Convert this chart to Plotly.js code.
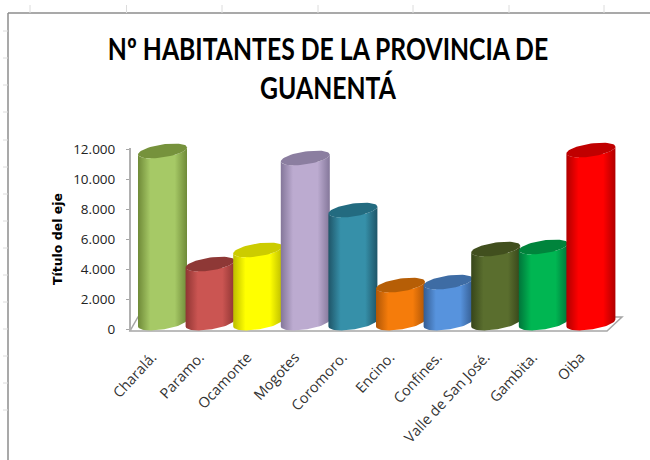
<!DOCTYPE html>
<html>
<head>
<meta charset="utf-8">
<script src="https://cdn.plot.ly/plotly-3.0.1.min.js"></script>
<style>html,body{margin:0;padding:0;background:#fff}#chart{width:650px;height:460px}</style>
</head>
<body>
<div id="chart"></div>
<script>
var categories = ["Charalá.","Paramo.","Ocamonte","Mogotes","Coromoro.","Encino.","Confines.","Valle de San José.","Gambita.","Oiba"];
var habitantes = [11470,3930,4870,11000,7530,2530,2730,4930,5070,11530];
var lightColors = ["#A6C966","#CB5552","#FFFF00","#BCABD0","#3690A9","#F57C0B","#5793DD","#5A6E2E","#00B652","#FF0000"];
var darkColors  = ["#6F8A38","#8F3533","#BDBD00","#84779A","#1F5568","#B05606","#355D92","#37461A","#00753A","#B00000"];
var capColors   = ["#76923C","#8E3836","#CCCC00","#8B7EA0","#236B80","#B65E06","#3E6CA4","#414F1E","#00843C","#C00000"];
var yTicks = [0,2000,4000,6000,8000,10000,12000];
var titleText = "Nº HABITANTES DE LA PROVINCIA DE<br>GUANENTÁ";
var yTitleText = "Título del eje";

var W=650,H=460, L=130,R=622;
var yZero=329, yTop=149;                 // pixel rows of the 0 and 12.000 ticks
var pxPerUnit=(yZero-yTop)/12000;
var pad=10;                              // room above and below so the caps are not clipped
var T=yTop-pad, B=yZero+pad;
var plotW=R-L, plotH=B-T;
var pxPerCat=47.6, firstCenter=162.5;
var xMin=(L-firstCenter)/pxPerCat, xMax=(R-firstCenter)/pxPerCat;
var halfW=24.5, tilt=3.5, halfH=6.5, depth=6/pxPerUnit;
var labelShift=-0.22, titleCx=328, titleSquash=0.825;

function px(x){return (x-L)/plotW;}
function py(y){return (B-y)/plotH;}
function arc(cx,cy,t0,t1,n){
  var xs=[],ys=[];
  for(var i=0;i<=n;i++){
    var t=t0+(t1-t0)*i/n;
    xs.push(cx+halfW*Math.cos(t)/pxPerCat);
    ys.push(cy+(tilt*Math.cos(t)-halfH*Math.sin(t))/pxPerUnit);
  }
  return {x:xs,y:ys};
}

var traces=[{
  type:"bar",x:categories.map(function(c,i){return i;}),y:habitantes,base:depth,width:0.5,
  marker:{color:lightColors},hoverinfo:"skip",showlegend:false
}];
habitantes.forEach(function(v,i){
  var top=v+depth;
  var low=arc(i,depth,Math.PI,0,40);
  var up=arc(i,top,0,Math.PI,40);
  traces.push({
    type:"scatter",mode:"lines",x:low.x.concat(up.x),y:low.y.concat(up.y),
    line:{width:0},fill:"toself",showlegend:false,hoverinfo:"skip",
    fillgradient:{type:"horizontal",colorscale:[[0,darkColors[i]],[0.25,lightColors[i]],[0.75,lightColors[i]],[1,darkColors[i]]]}
  });
  var cap=arc(i,top,0,2*Math.PI,60);
  traces.push({
    type:"scatter",mode:"lines",x:cap.x,y:cap.y,line:{width:0},fill:"toself",
    fillcolor:capColors[i],showlegend:false,
    name:categories[i],text:String(v),hoverinfo:"name+text"
  });
});

var shapes=[];
function seg(x0,y0,x1,y1,c,w){
  shapes.push({type:"line",xref:"paper",yref:"paper",x0:px(x0),y0:py(y0),x1:px(x1),y1:py(y1),line:{color:c,width:w},layer:"below"});
}
seg(8,13,650,13,"#8c8c8c",1.5);
seg(8,13,8,460,"#8c8c8c",1.5);
[30,126.5,222,318,413,509,604].forEach(function(x){seg(x,5,x,13,"#dcdcdc",1);});
[31,58,85,112,140,167,194,221,248,275,302,329,356,383,410].forEach(function(y){seg(3,y,8,y,"#dcdcdc",1);});
shapes.push({type:"path",xref:"paper",yref:"paper",layer:"below",
  path:"M"+px(130)+","+py(331)+" L"+px(607)+","+py(331)+" L"+px(622)+","+py(317)+" L"+px(138)+","+py(317)+" Z",
  line:{color:"#a6a6a6",width:1.5},fillcolor:"#ffffff"});
seg(130,148,130,331,"#b0b0b0",2);

var layout={
  width:W,height:H,paper_bgcolor:"#ffffff",plot_bgcolor:"rgba(0,0,0,0)",showlegend:false,
  margin:{l:L,r:W-R,t:T,b:H-B,pad:0},separators:",.",
  title:{text:titleText,x:titleCx/W,xanchor:"center",y:1-60/H,yanchor:"top",yref:"container",
    font:{family:"Lato",size:30,color:"#000000",weight:"bold"}},
  xaxis:{range:[xMin,xMax],tickmode:"array",tickvals:categories.map(function(c,i){return i+labelShift;}),ticktext:categories,
    tickangle:-47,ticks:"",showgrid:false,zeroline:false,showline:false,ticklabelstandoff:6,
    tickfont:{family:"Open Sans",size:14.5,color:"#333333"}},
  yaxis:{range:[-pad/pxPerUnit,12000+pad/pxPerUnit],tickmode:"array",tickvals:yTicks,tickformat:",d",ticks:"outside",ticklen:3,tickcolor:"#a6a6a6",tickwidth:1,
    showgrid:false,zeroline:false,showline:false,ticklabelstandoff:8,
    tickfont:{family:"Open Sans",size:13.5,color:"#222222"},
    title:{text:yTitleText,standoff:7,font:{family:"DejaVu Sans",size:12.5,color:"#000000",weight:"bold"}}},
  shapes:shapes
};
Plotly.newPlot("chart",traces,layout,{displayModeBar:false}).then(function(gd){
  var t=gd.querySelector(".gtitle");
  if(t){t.setAttribute("transform","translate("+titleCx+",0) scale("+titleSquash+",1) translate("+(-titleCx)+",0)");}
});
</script>
</body>
</html>
